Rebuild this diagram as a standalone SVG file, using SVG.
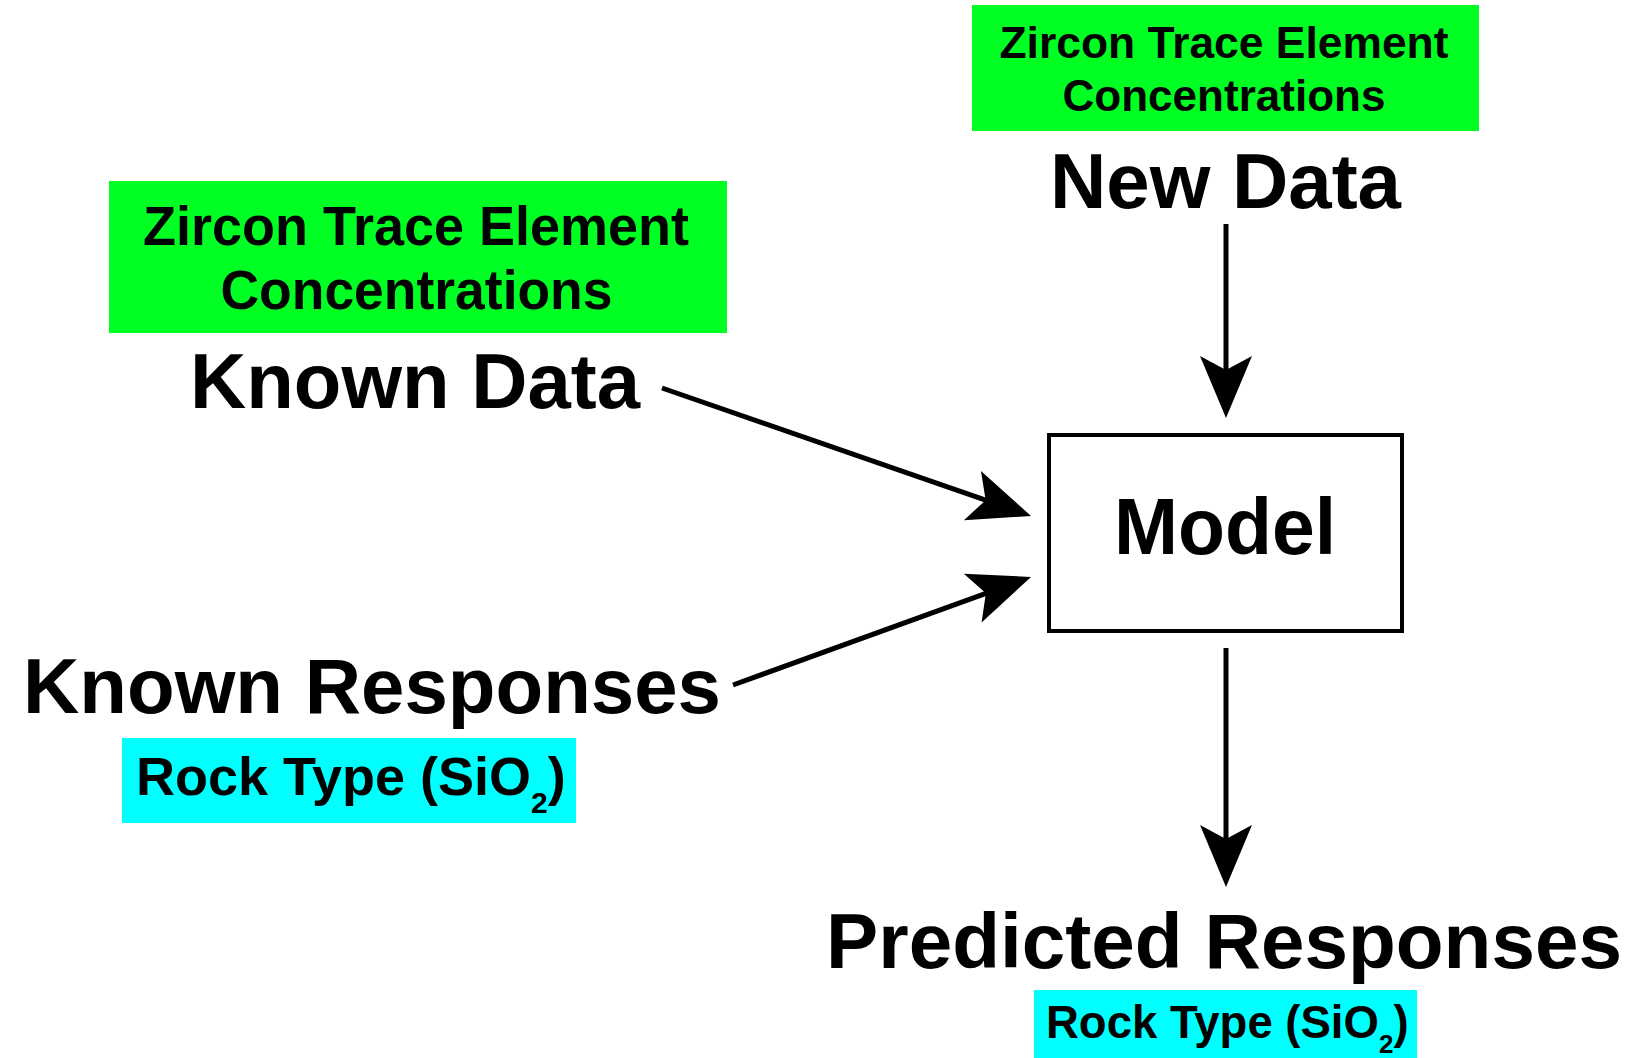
<svg xmlns="http://www.w3.org/2000/svg" width="1633" height="1058" viewBox="0 0 1633 1058">
  <style>
    .t { font-family: "Liberation Sans", Arial, sans-serif; font-weight: bold; fill: #000; }
    .green { fill: #00FF22; }
    .cyan { fill: #00FFFF; }
    .conn { stroke: #000; stroke-width: 5; fill: none; }
  </style>
  <defs>
    <marker id="ah" markerUnits="userSpaceOnUse" orient="auto" refX="0" refY="0" markerWidth="120" markerHeight="120" overflow="visible">
      <path d="M45,0 L-17,-26 L-3,0 L-17,26 Z" fill="#000"/>
    </marker>
  </defs>
  <rect width="1633" height="1058" fill="#fff"/>

  <g id="new-data-tag">
    <rect class="green" x="972" y="5" width="507" height="126"/>
    <text class="t" x="1224" y="58" font-size="44" text-anchor="middle" textLength="449" lengthAdjust="spacingAndGlyphs">Zircon Trace Element</text>
    <text class="t" x="1224" y="111" font-size="44" text-anchor="middle" textLength="323" lengthAdjust="spacingAndGlyphs">Concentrations</text>
  </g>
  <g id="new-data">
    <text class="t" x="1225.5" y="208" font-size="78" text-anchor="middle" textLength="351" lengthAdjust="spacingAndGlyphs">New Data</text>
  </g>

  <g id="known-data-tag">
    <rect class="green" x="109" y="181" width="618" height="152"/>
    <text class="t" x="416" y="245" font-size="56" text-anchor="middle" textLength="546" lengthAdjust="spacingAndGlyphs">Zircon Trace Element</text>
    <text class="t" x="416.5" y="309" font-size="56" text-anchor="middle" textLength="392" lengthAdjust="spacingAndGlyphs">Concentrations</text>
  </g>
  <g id="known-data">
    <text class="t" x="415" y="408" font-size="78" text-anchor="middle" textLength="450" lengthAdjust="spacingAndGlyphs">Known Data</text>
  </g>

  <g id="known-responses">
    <text class="t" x="23" y="713" font-size="78" textLength="698" lengthAdjust="spacingAndGlyphs">Known Responses</text>
  </g>
  <g id="known-responses-tag">
    <rect class="cyan" x="122" y="738" width="454" height="85"/>
    <text class="t" x="136" y="795" font-size="54">Rock Type (SiO<tspan font-size="30" dy="18">2</tspan><tspan dy="-18">)</tspan></text>
  </g>

  <g id="model">
    <rect x="1049" y="435" width="353" height="196" fill="#fff" stroke="#000" stroke-width="4"/>
    <text class="t" x="1225" y="554" font-size="80" text-anchor="middle" textLength="222" lengthAdjust="spacingAndGlyphs">Model</text>
  </g>

  <g id="predicted-responses">
    <text class="t" x="826" y="968" font-size="78" textLength="796" lengthAdjust="spacingAndGlyphs">Predicted Responses</text>
  </g>
  <g id="predicted-responses-tag">
    <rect class="cyan" x="1034" y="990" width="383" height="68"/>
    <text class="t" x="1046" y="1038" font-size="45.5">Rock Type (SiO<tspan font-size="26" dy="15">2</tspan><tspan dy="-15">)</tspan></text>
  </g>

  <g id="connectors">
    <path class="conn" d="M662,388 L988.5,501.2" marker-end="url(#ah)"/>
    <path class="conn" d="M733,685 L988.7,592.3" marker-end="url(#ah)"/>
    <path class="conn" d="M1226,224 L1226,373" marker-end="url(#ah)"/>
    <path class="conn" d="M1226,648 L1226,842" marker-end="url(#ah)"/>
  </g>
</svg>
